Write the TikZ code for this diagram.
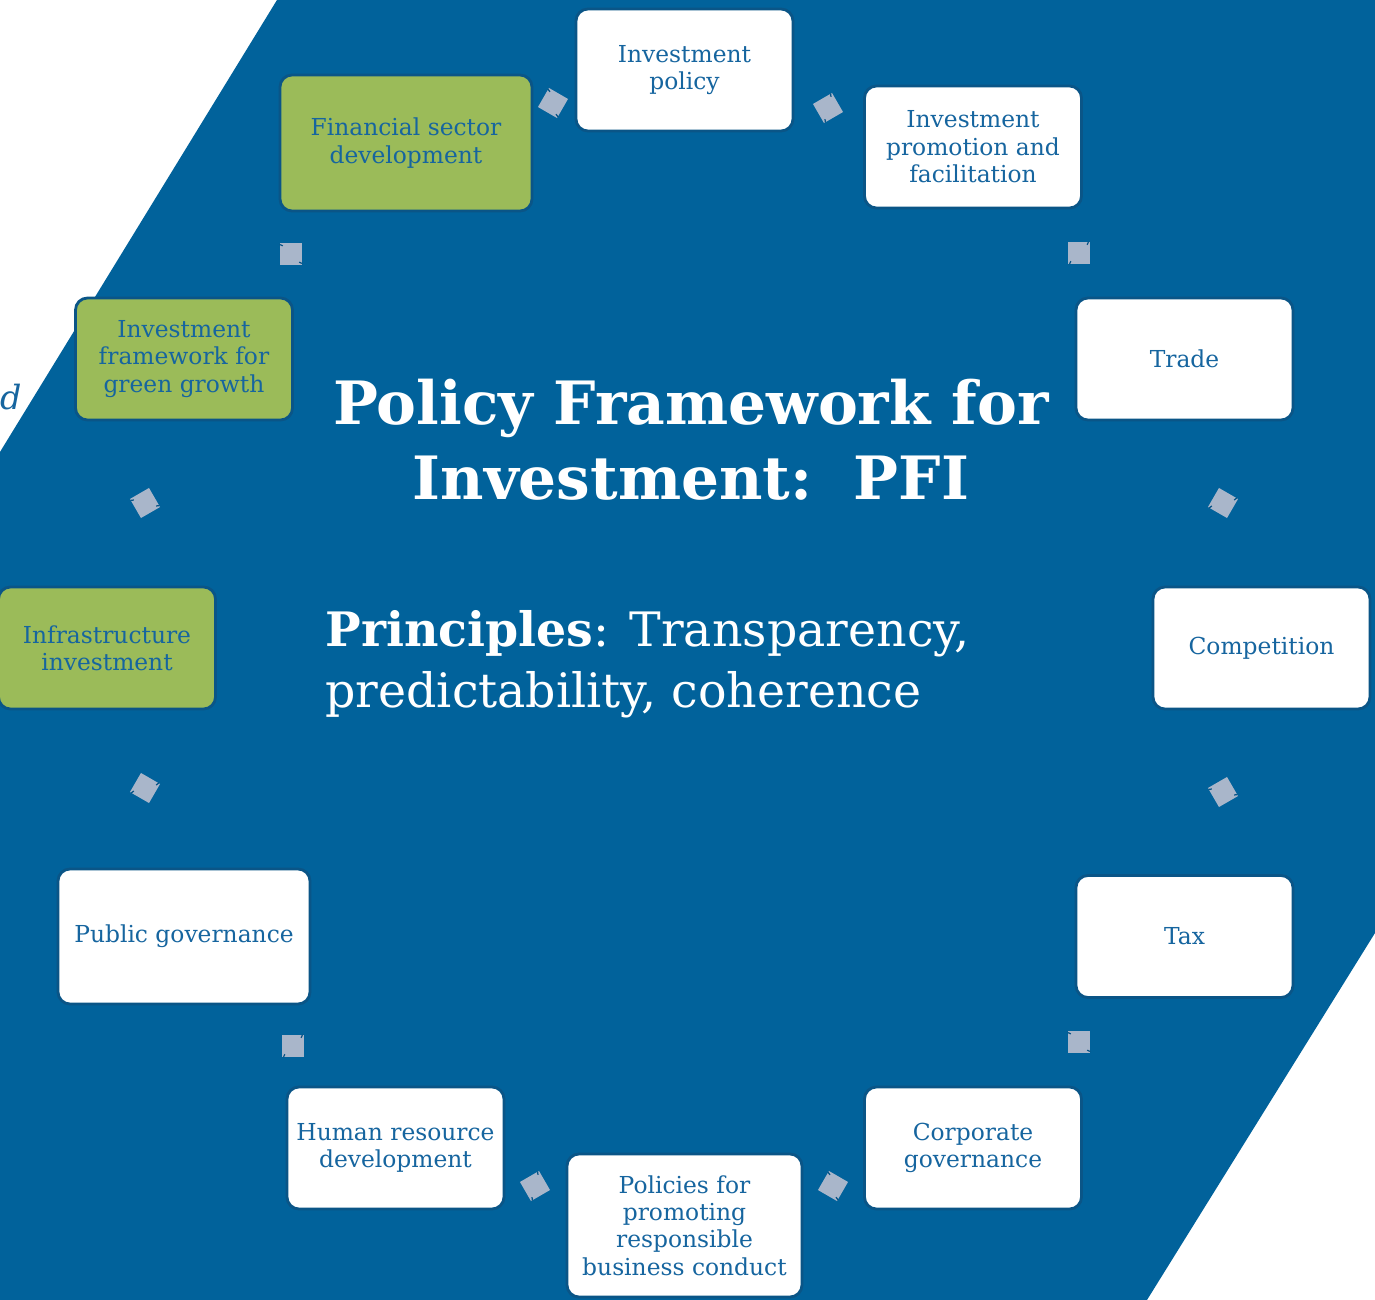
\documentclass[tikz,border=0pt]{standalone}
\usepackage{fontspec}
\setmainfont{DejaVu Serif}
\usepackage{tikz}
\usetikzlibrary{calc}

\definecolor{pfiblue}{HTML}{01629B}
\definecolor{rimblue}{HTML}{0A5587}
\definecolor{inkblue}{HTML}{16659F}
\definecolor{leafgreen}{HTML}{9BBB59}
\definecolor{linkgrey}{HTML}{A9B6CA}

\tikzset{
  area/.style={rectangle, rounded corners=0.24cm, draw=rimblue, line width=1.6pt,
    fill=white, text=inkblue, align=center, inner sep=2pt,
    minimum width=4.34cm, minimum height=2.44cm,
    font=\fontsize{13.3}{15.6}\selectfont},
  green area/.style={area, fill=leafgreen},
  link/.style={rectangle, fill=linkgrey, minimum size=0.44cm, inner sep=0pt},
  notch/.style={draw=rimblue, line width=0.7pt},
}

\begin{document}
\begin{tikzpicture}

\useasboundingbox (-13.69, -13.04) rectangle (13.81, 12.96);
\fill [white] (-13.69, -13.04) rectangle (13.81, 12.96);
\fill [pfiblue] (-8.15, 12.96) -- (13.81, 12.96) -- (13.81, -5.70)
  -- (9.25, -13.04) -- (-13.69, -13.04) -- (-13.69, 3.92) -- cycle;

\node [anchor=base west, inner sep=0pt, text=inkblue, font=\fontsize{19}{23}\selectfont\itshape] (cut) at (-13.69, 4.76) {d};

\node [text=white, align=center, inner sep=0pt, font=\fontsize{34}{42.7}\selectfont\bfseries] (title) at (0.13, 4.17) {Policy Framework for\\Investment:\ \ PFI};
\node [text=white, align=left, anchor=west, inner sep=0pt, font=\fontsize{27}{35}\selectfont] (principles) at (-7.19, -0.32) {\textbf{Principles}: Transparency,\\predictability, coherence};

\node [area] (policy) at (0, 11.56) {Investment\\policy};
\node [area] (promotion) at (5.77, 10.02) {Investment\\promotion and\\facilitation};
\node [area] (trade) at (10.0, 5.78) {Trade};
\node [area] (competition) at (11.54, 0) {Competition};
\node [area] (tax) at (10.0, -5.77) {Tax};
\node [area] (corporate) at (5.77, -10.0) {Corporate\\governance};
\node [area, minimum width=4.7cm, minimum height=2.86cm] (conduct) at (0, -11.55) {Policies for\\promoting\\responsible\\business conduct};
\node [area] (human) at (-5.78, -10.0) {Human resource\\development};
\node [area, minimum width=5.04cm, minimum height=2.7cm] (public) at (-10.01, -5.77) {Public governance};
\node [green area] (infra) at (-11.55, 0) {Infrastructure\\investment};
\node [green area] (green) at (-10.01, 5.78) {Investment\\framework for\\green growth};
\node [green area, minimum width=5.04cm, minimum height=2.72cm] (finance) at (-5.57, 10.1) {Financial sector\\development};

\node [link, rotate=60] (l1) at (-2.63, 10.9) {};
\node [link, rotate=30] (l2) at (2.87, 10.8) {};
\node [link] (l3) at (7.89, 7.9) {};
\node [link, rotate=-30] (l4) at (10.77, 2.9) {};
\node [link, rotate=-60] (l5) at (10.77, -2.88) {};
\node [link, rotate=-90] (l6) at (7.89, -7.88) {};
\node [link, rotate=-120] (l7) at (2.97, -10.76) {};
\node [link, rotate=-150] (l8) at (-2.99, -10.76) {};
\node [link, rotate=180] (l9) at (-7.83, -7.96) {};
\node [link, rotate=150] (l10) at (-10.79, -2.8) {};
\node [link, rotate=120] (l11) at (-10.79, 2.9) {};
\node [link, rotate=90] (l12) at (-7.87, 7.88) {};

% small notches on the links
\foreach \l in {l1, l2, l3, l4, l5, l6, l7, l8, l9, l10, l11, l12}
  \draw [notch] ($(\l.north east)!0.08!(\l.north west)$) -- ($(\l.north east)!0.28!(\l.center)$)
    ($(\l.south west)!0.08!(\l.south east)$) -- ($(\l.south west)!0.28!(\l.center)$);

\end{tikzpicture}
\end{document}
